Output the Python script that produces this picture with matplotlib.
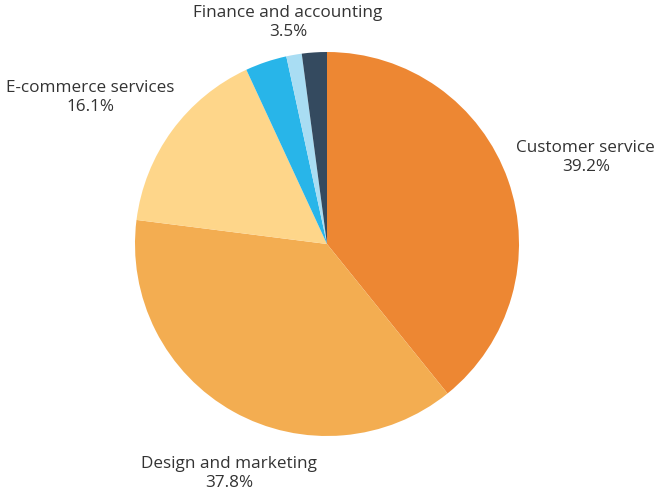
import numpy as np
import matplotlib
matplotlib.use('Agg')
from matplotlib import pyplot as plt

labels = ['Customer service', 'Design and marketing', 'E-commerce services',
          'Finance and accounting', '', '']
values = [39.2, 37.8, 16.1, 3.5, 1.3, 2.1]
colors = ['#ED8733', '#F3AD51', '#FED68A', '#28B5E9', '#A9DDF3', '#344A5F']
show_label = [True, True, True, True, False, False]

# label placement (distance from centre in radii, angle in degrees)
label_pos = [(1.42, 18.4), (1.30, -113.0), (1.45, 148.3), (1.17, 100.0)]

plt.rcParams['font.family'] = ['Open Sans', 'DejaVu Sans']

fig = plt.figure(figsize=(6.57, 4.91), dpi=100)
ax = fig.add_axes([0, 0, 1, 1])
ax.pie(values, colors=colors, startangle=90, counterclock=False,
       radius=1.0, center=(0, 0), wedgeprops=dict(linewidth=0))

for i, (lab, v) in enumerate(zip(labels, values)):
    if not show_label[i]:
        continue
    r, a = label_pos[i]
    x = r * np.cos(np.radians(a))
    y = r * np.sin(np.radians(a))
    ax.text(x, y, '%s\n%.1f%%' % (lab, v), ha='center', va='center',
            fontsize=12.3, color='#333333', linespacing=1.25)

ax.set_xlim(-327 / 192, 330 / 192)
ax.set_ylim(-247 / 192, 244 / 192)
ax.set_aspect('equal')
ax.axis('off')

fig.savefig('out.png', dpi=100)
